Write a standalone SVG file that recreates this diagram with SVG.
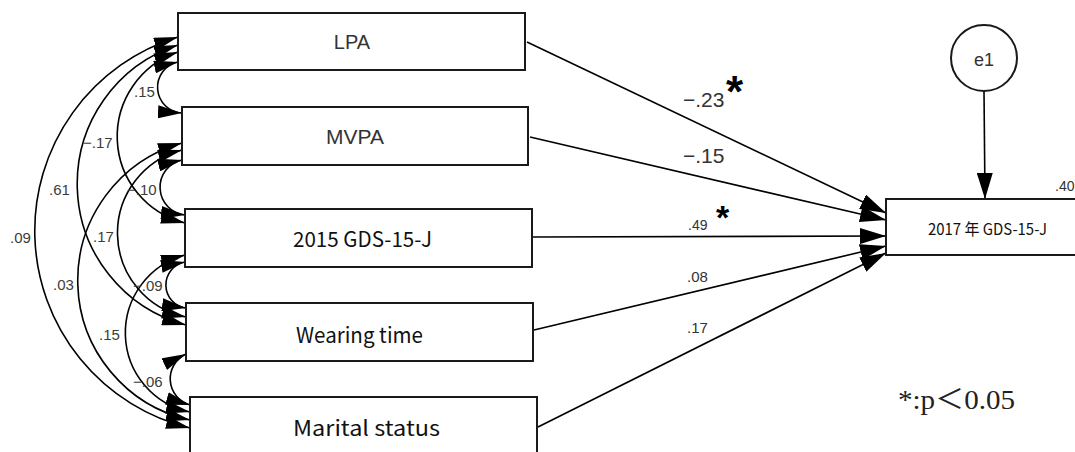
<svg xmlns="http://www.w3.org/2000/svg" width="1075" height="452" viewBox="0 0 1075 452">
  <style>
    .box { fill: #fff; stroke: #1a1a1a; stroke-width: 2; }
    .edge { fill: none; stroke: #000; stroke-width: 1.6; }
    .sans { font-family: "Liberation Sans", Arial, sans-serif; fill: #333; }
    .gothic { font-family: "Noto Sans CJK JP", "Liberation Sans", sans-serif; fill: #111; }
    .cov { font-family: "Liberation Sans", Arial, sans-serif; font-size: 15px; fill: #3c3c3c; }
    .coef { font-family: "Liberation Sans", Arial, sans-serif; fill: #333; }
    .star { font-family: "Liberation Sans", Arial, sans-serif; font-weight: bold; fill: #000; }
  </style>
  <defs>
    <!-- arrowhead for two-headed covariance arcs -->
    <marker id="headSmall" viewBox="0 0 24 13" refX="24" refY="6.5" markerWidth="24" markerHeight="13" markerUnits="userSpaceOnUse" orient="auto-start-reverse">
      <path d="M0,0 L24,6.5 L0,13 z" fill="#000"/>
    </marker>
    <!-- arrowhead for regression paths -->
    <marker id="head" viewBox="0 0 26 16" refX="26" refY="8" markerWidth="26" markerHeight="16" markerUnits="userSpaceOnUse" orient="auto">
      <path d="M0,0 L26,8 L0,16 z" fill="#000"/>
    </marker>
  </defs>

  <!-- covariances and regression paths -->
  <g id="connectors">
    <g id="covariances">
      <path class="edge" d="M178,62 A25.8,25.8 0 0 0 182,113" marker-start="url(#headSmall)" marker-end="url(#headSmall)"/>
      <path class="edge" d="M178,52 A89.1,89.1 0 0 0 185,223" marker-start="url(#headSmall)" marker-end="url(#headSmall)"/>
      <path class="edge" d="M178,45 A146,146 0 0 0 186,325" marker-start="url(#headSmall)" marker-end="url(#headSmall)"/>
      <path class="edge" d="M178,37 A202.8,202.8 0 0 0 190,428" marker-start="url(#headSmall)" marker-end="url(#headSmall)"/>
      <path class="edge" d="M182,160 A27.9,27.9 0 0 0 185,215" marker-start="url(#headSmall)" marker-end="url(#headSmall)"/>
      <path class="edge" d="M182,150 A85.7,85.7 0 0 0 186,317" marker-start="url(#headSmall)" marker-end="url(#headSmall)"/>
      <path class="edge" d="M182,143 A142.8,142.8 0 0 0 190,420" marker-start="url(#headSmall)" marker-end="url(#headSmall)"/>
      <path class="edge" d="M185,262 A23.3,23.3 0 0 0 186,308" marker-start="url(#headSmall)" marker-end="url(#headSmall)"/>
      <path class="edge" d="M185,255 A80.7,80.7 0 0 0 190,412" marker-start="url(#headSmall)" marker-end="url(#headSmall)"/>
      <path class="edge" d="M186,354 A27.3,27.3 0 0 0 190,405" marker-start="url(#headSmall)" marker-end="url(#headSmall)"/>
    </g>
    <g id="paths">
      <line class="edge" x1="527" y1="42" x2="886" y2="213" marker-end="url(#head)"/>
      <line class="edge" x1="530" y1="137" x2="886" y2="220" marker-end="url(#head)"/>
      <line class="edge" x1="533" y1="237" x2="886" y2="236" marker-end="url(#head)"/>
      <line class="edge" x1="534" y1="330" x2="886" y2="246" marker-end="url(#head)"/>
      <line class="edge" x1="538" y1="427" x2="886" y2="253" marker-end="url(#head)"/>
      <line class="edge" x1="984" y1="91" x2="985" y2="199" marker-end="url(#head)"/>
    </g>
    <g id="edge-labels">
      <text class="cov" x="134" y="97">.15</text>
      <text class="cov" x="83" y="148">−.17</text>
      <text class="cov" x="49" y="195">.61</text>
      <text class="cov" x="127" y="195">−.10</text>
      <text class="cov" x="10" y="243">.09</text>
      <text class="cov" x="93" y="242">.17</text>
      <text class="cov" x="53" y="290">.03</text>
      <text class="cov" x="133" y="291">−.09</text>
      <text class="cov" x="99" y="340">.15</text>
      <text class="cov" x="133" y="387">−.06</text>

      <text class="coef" x="683" y="107" font-size="21">−.23</text>
      <text class="star" x="726" y="107" font-size="44">*</text>
      <text class="coef" x="683" y="163" font-size="21">−.15</text>
      <text class="coef" x="688" y="230" font-size="14">.49</text>
      <text class="star" x="716" y="229" font-size="34">*</text>
      <text class="coef" x="687" y="282" font-size="15">.08</text>
      <text class="coef" x="687" y="333" font-size="15">.17</text>
      <text class="coef" x="1055" y="191" font-size="14">.40</text>
    </g>
  </g>

  <g id="node-lpa">
    <rect class="box" x="178" y="13" width="347" height="57"/>
    <text class="sans" x="352" y="49" font-size="20" text-anchor="middle">LPA</text>
  </g>
  <g id="node-mvpa">
    <rect class="box" x="182" y="107" width="346" height="58"/>
    <text class="sans" x="355" y="144" font-size="21" text-anchor="middle">MVPA</text>
  </g>
  <g id="node-gds2015">
    <rect class="box" x="185" y="209" width="347" height="58"/>
    <text class="gothic" x="293" y="247" font-size="21" textLength="139" lengthAdjust="spacingAndGlyphs">2015 GDS-15-J</text>
  </g>
  <g id="node-wearing">
    <rect class="box" x="186" y="303" width="347" height="58"/>
    <text class="gothic" x="296" y="343" font-size="21" textLength="127" lengthAdjust="spacingAndGlyphs">Wearing time</text>
  </g>
  <g id="node-marital">
    <rect class="box" x="190" y="397" width="347" height="60"/>
    <text class="gothic" x="293" y="436" font-size="21" textLength="147" lengthAdjust="spacingAndGlyphs">Marital status</text>
  </g>
  <g id="node-gds2017">
    <rect class="box" x="886" y="199" width="200" height="56"/>
    <text class="gothic" x="928" y="235" font-size="16" textLength="119" lengthAdjust="spacingAndGlyphs">2017 年 GDS-15-J</text>
  </g>
  <g id="node-e1">
    <circle cx="984" cy="58" r="33" fill="#fff" stroke="#1a1a1a" stroke-width="2"/>
    <text class="sans" x="984" y="66" font-size="18" text-anchor="middle">e1</text>
  </g>

  <text x="898" y="409" font-family="Liberation Serif, 'Noto Sans CJK JP', serif" font-size="27" fill="#222" textLength="117" lengthAdjust="spacingAndGlyphs">*:p＜0.05</text>
</svg>
